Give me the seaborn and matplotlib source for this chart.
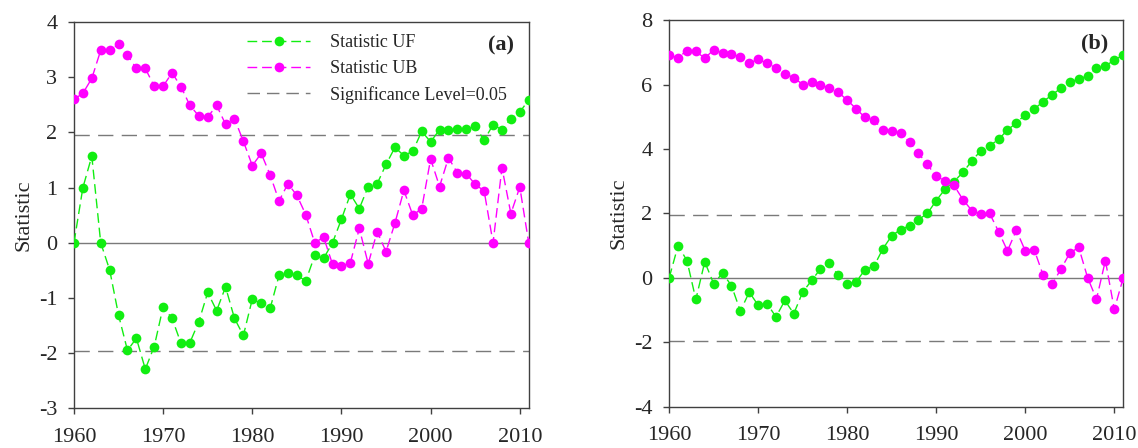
import numpy as np
import pandas as pd
import matplotlib
matplotlib.use("Agg")
import matplotlib.pyplot as plt
import seaborn as sns
from matplotlib.lines import Line2D

years = list(range(1960, 2012))

uf_a = [0, 1.00, 1.57, 0, -0.49, -1.31, -1.95, -1.73, -2.29, -1.88,
        -1.16, -1.37, -1.82, -1.81, -1.43, -0.90, -1.23, -0.80, -1.37, -1.68,
        -1.02, -1.10, -1.19, -0.59, -0.55, -0.59, -0.69, -0.23, -0.28, 0.0,
        0.43, 0.88, 0.62, 1.02, 1.07, 1.42, 1.73, 1.58, 1.66, 2.02,
        1.83, 2.05, 2.05, 2.07, 2.06, 2.11, 1.86, 2.14, 2.05, 2.25,
        2.37, 2.59]
ub_a = [2.60, 2.71, 2.98, 3.49, 3.49, 3.60, 3.40, 3.16, 3.16, 2.84,
        2.84, 3.08, 2.83, 2.49, 2.30, 2.28, 2.49, 2.15, 2.25, 1.84,
        1.40, 1.62, 1.23, 0.76, 1.07, 0.86, 0.51, 0.0, 0.10, -0.39,
        -0.42, -0.36, 0.26, -0.38, 0.20, -0.16, 0.36, 0.95, 0.50, 0.62,
        1.52, 1.02, 1.54, 1.27, 1.25, 1.06, 0.94, 0.0, 1.36, 0.53,
        1.01, 0.0]
uf_b = [0, 1.00, 0.54, -0.67, 0.50, -0.18, 0.15, -0.24, -1.03, -0.44,
        -0.85, -0.80, -1.21, -0.70, -1.11, -0.44, -0.08, 0.28, 0.46, 0.08,
        -0.18, -0.13, 0.26, 0.36, 0.90, 1.31, 1.50, 1.62, 1.81, 2.00,
        2.40, 2.76, 2.99, 3.28, 3.63, 3.95, 4.10, 4.30, 4.59, 4.81,
        5.07, 5.24, 5.47, 5.68, 5.89, 6.08, 6.17, 6.27, 6.50, 6.57,
        6.77, 6.91]
ub_b = [6.91, 6.84, 7.05, 7.03, 6.82, 7.08, 6.98, 6.95, 6.86, 6.66,
        6.79, 6.66, 6.52, 6.33, 6.22, 6.00, 6.09, 5.99, 5.89, 5.76,
        5.52, 5.25, 4.98, 4.90, 4.59, 4.57, 4.49, 4.21, 3.87, 3.52,
        3.15, 3.02, 2.87, 2.43, 2.09, 1.98, 2.00, 1.44, 0.84, 1.48,
        0.84, 0.88, 0.09, -0.20, 0.27, 0.77, 0.95, 0.01, -0.66, 0.54,
        -0.98, 0.0]

sig_level = 1.96
legend_labels = ["Statistic UF", "Statistic UB", "Significance Level=0.05"]
panel_labels = ["(a)", "(b)"]
xticks = [1960, 1970, 1980, 1990, 2000, 2010]
yticks_a = [-3, -2, -1, 0, 1, 2, 3, 4]
yticks_b = [-4, -2, 0, 2, 4, 6, 8]

sns.set_style("ticks")
plt.rcParams["font.family"] = ["Liberation Serif", "DejaVu Serif"]
plt.rcParams["axes.unicode_minus"] = False

GREEN = "#11ee11"
MAGENTA = "#ff00ff"
GREY = "#7a7a7a"
AXC = "#404040"

fig = plt.figure(figsize=(11.38, 4.48), dpi=100)
ax_a = fig.add_axes([0.065, 0.0886, 0.3996, 0.862])
ax_b = fig.add_axes([0.588, 0.092, 0.399, 0.863])

df_a = pd.DataFrame({"year": years, "UF": uf_a, "UB": ub_a})
df_b = pd.DataFrame({"year": years, "UF": uf_b, "UB": ub_b})

series_dash = (0, (7, 3.5))

def draw(ax, df, ylim, yticks, label, ylab_pad):
    ax.axhline(0, color=GREY, lw=1.0, zorder=1)
    ax.axhline(sig_level, color=GREY, lw=1.0, ls=(0, (11, 6)), zorder=1)
    ax.axhline(-sig_level, color=GREY, lw=1.0, ls=(0, (11, 6)), zorder=1)
    sns.lineplot(data=df, x="year", y="UF", ax=ax, color=GREEN, marker="o",
                 markersize=7, markeredgewidth=0, lw=1.0, zorder=3)
    sns.lineplot(data=df, x="year", y="UB", ax=ax, color=MAGENTA, marker="o",
                 markersize=7, markeredgewidth=0, lw=1.0, zorder=3)
    for ln in ax.get_lines()[3:]:
        ln.set_linestyle(series_dash)
    ax.set_xlim(1960, 2011)
    ax.set_ylim(*ylim)
    ax.set_xticks(xticks)
    ax.set_yticks(yticks)
    ax.set_xlabel("")
    ax.set_ylabel("Statistic", fontsize=16, labelpad=ylab_pad)
    ax.tick_params(axis="both", labelsize=16, length=4, width=1.0,
                   color=AXC, direction="out")
    ax.tick_params(axis="x", pad=10)
    ax.tick_params(axis="y", pad=8)
    for s in ax.spines.values():
        s.set_visible(True)
        s.set_color(AXC)
        s.set_linewidth(1.0)
    ax.text(0.968, 0.965, label, transform=ax.transAxes, ha="right", va="top",
            fontsize=16, fontweight="bold")
    ax.set_facecolor("white")

draw(ax_a, df_a, (-3, 4), yticks_a, panel_labels[0], 4)
draw(ax_b, df_b, (-4, 8), yticks_b, panel_labels[1], 4)

handles = [
    Line2D([], [], color=GREEN, ls=series_dash, lw=1.0, marker="o", markersize=7, markeredgewidth=0),
    Line2D([], [], color=MAGENTA, ls=series_dash, lw=1.0, marker="o", markersize=7, markeredgewidth=0),
    Line2D([], [], color=GREY, ls=(0, (9, 5)), lw=1.0),
]
ax_a.legend(handles, legend_labels, loc="upper left", bbox_to_anchor=(0.355, 1.0),
            frameon=False, fontsize=13, handlelength=3.5, handletextpad=1.1,
            labelspacing=0.5, borderaxespad=0.25)

fig.savefig("out.png", dpi=100, facecolor="white")
